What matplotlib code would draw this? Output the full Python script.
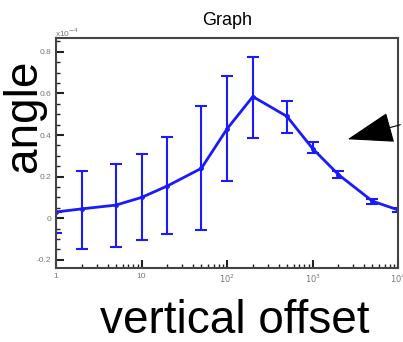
import numpy as np
import matplotlib.pyplot as plt
from matplotlib.ticker import LogLocator, FixedLocator, FuncFormatter, MultipleLocator

plt.rcParams['font.family'] = ['Liberation Sans', 'DejaVu Sans']

offset = [1, 2, 5, 10, 20, 50, 100, 200, 500, 1000, 2000, 5000, 10000]
angle = [0.03, 0.045, 0.063, 0.10, 0.155, 0.24, 0.43, 0.585, 0.49, 0.335, 0.21, 0.082, 0.04]
err_lo = [0.10, 0.195, 0.20, 0.205, 0.232, 0.295, 0.25, 0.20, 0.08, 0.02, 0.015, 0.012, 0.01]
err_hi = [0.0, 0.18, 0.197, 0.21, 0.235, 0.30, 0.255, 0.19, 0.075, 0.03, 0.015, 0.012, 0.01]

fig = plt.figure(figsize=(4.03, 3.42), dpi=100)
ax = fig.add_axes([0.139, 0.216, 0.849, 0.673])

ax.errorbar(offset, angle, yerr=[err_lo, err_hi], color='#1a1aff', lw=2,
            elinewidth=1.5, capsize=4.5, capthick=1.5, marker='o', ms=2.5)
ax.set_xscale('log')
ax.set_xlim(1, 10000)
ax.set_ylim(-0.24, 0.867)

ax.yaxis.set_major_locator(MultipleLocator(0.2))
ax.yaxis.set_minor_locator(MultipleLocator(0.05))
ax.yaxis.set_major_formatter(FuncFormatter(lambda v, p: '%g' % round(v, 2)))
ax.xaxis.set_major_locator(FixedLocator([1, 10, 100, 1000, 10000]))
ax.xaxis.set_minor_locator(LogLocator(base=10, subs=np.arange(2, 10), numticks=20))
labels = {1: '1', 10: '10', 100: r'$10^{2}$', 1000: r'$10^{3}$', 10000: r'$10^{4}$'}
ax.xaxis.set_major_formatter(FuncFormatter(lambda v, p: labels.get(int(round(v)), '')))

ax.tick_params(which='both', direction='in', colors='#222222', labelcolor='#777777',
               labelsize=6, top=False, right=False)
ax.tick_params(which='major', length=6, width=1.5)
ax.tick_params(which='minor', length=3, width=1)
for s in ax.spines.values():
    s.set_color('#444444')
    s.set_linewidth(1.5)

fig.text(0.563, 0.94, 'Graph', fontsize=13, ha='center', va='center')
fig.text(0.137, 0.893, r'x10$^{-4}$', fontsize=6, color='#777777')
fig.text(0.06, 0.66, 'angle', fontsize=33, rotation=90, ha='center', va='center')
fig.text(0.583, 1 - 333 / 342, 'vertical offset', fontsize=33, ha='center', va='baseline')

ax.annotate('', xy=(345, 342 - 140), xycoords='figure pixels',
            xytext=(403, 342 - 124), textcoords='figure pixels',
            arrowprops=dict(arrowstyle='-|>,head_length=3.0,head_width=1.0',
                            color='black', lw=0.8),
            annotation_clip=False)

fig.savefig('out.png', dpi=100)
